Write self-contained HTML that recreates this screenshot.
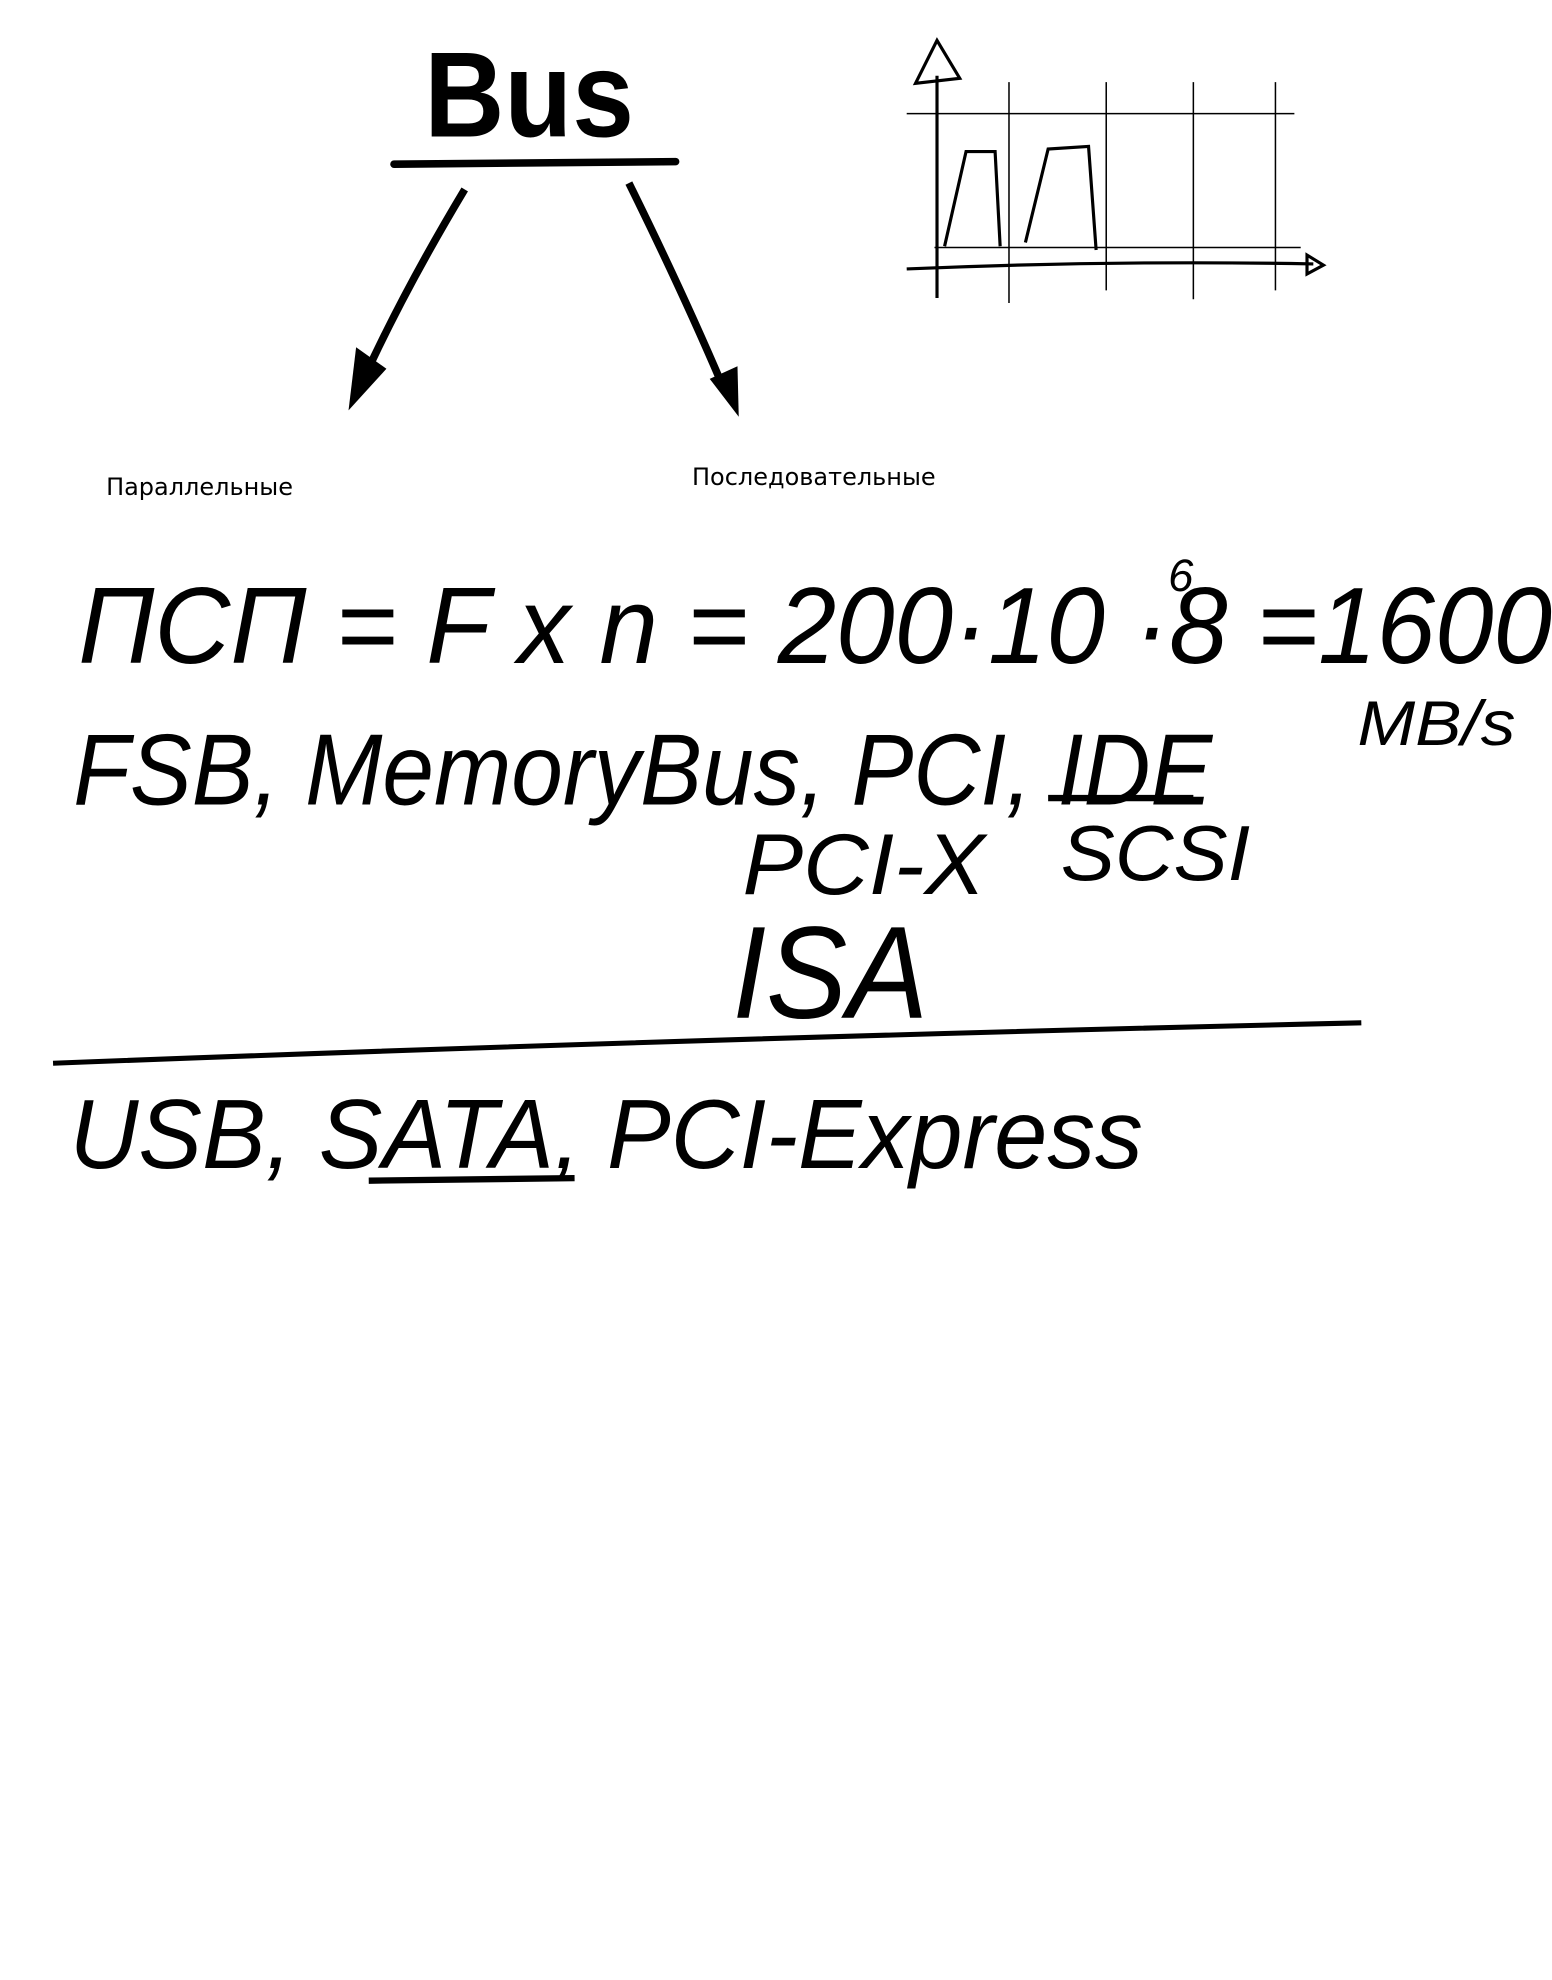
<!DOCTYPE html>
<html><head><meta charset="utf-8"><style>
html,body{margin:0;padding:0;background:#fff;width:1552px;height:1980px;overflow:hidden}
svg{display:block}
.h{font-family:"Liberation Sans",sans-serif;font-style:italic;fill:#000}
.t{font-family:"DejaVu Sans","Liberation Sans",sans-serif;fill:#000;font-size:19px}
</style></head><body>
<svg width="1552" height="1980" viewBox="0 0 1229 1568" preserveAspectRatio="none">
<rect width="1229" height="1568" fill="#fff"/>
<g>
<text x="336" y="108" font-family="Liberation Sans, sans-serif" font-weight="bold" font-size="96" textLength="166" lengthAdjust="spacingAndGlyphs">Bus</text>
<line x1="312" y1="130" x2="535" y2="128" stroke="#000" stroke-width="6" stroke-linecap="round"/>
<path d="M368 150 Q320 230 288 300" stroke="#000" stroke-width="6" fill="none"/>
<path d="M276 325 L282 275 L306 292 Z" fill="#000"/>
<path d="M498 145 Q540 230 572 305" stroke="#000" stroke-width="6" fill="none"/>
<path d="M585 330 L562 300 L584 290 Z" fill="#000"/>
<text x="84" y="392" class="t">Параллельные</text>
<text x="548" y="384" class="t">Последовательные</text>
</g>
<g stroke="#000" fill="none">
<g stroke-width="1.2">
<line x1="799" y1="65" x2="799" y2="240"/><line x1="876" y1="65" x2="876" y2="230"/>
<line x1="945" y1="65" x2="945" y2="237"/><line x1="1010" y1="65" x2="1010" y2="230"/>
<line x1="718" y1="90" x2="1025" y2="90"/><line x1="740" y1="196" x2="1030" y2="196"/>
</g>
<g stroke-width="2.5">
<line x1="742" y1="236" x2="742" y2="60"/>
<path d="M725 66 L742 32 L760 62 Z"/>
<path d="M718 213 Q880 206 1040 209"/>
<path d="M1035 202 L1048 210 L1035 217 Z"/>
<path d="M748 195 L765 120 L788 120 L792 195"/>
<path d="M812 192 L830 118 L862 116 L868 198"/>
</g>
</g>
<g>
<text x="62" y="525" class="h" font-size="86" textLength="1167" lengthAdjust="spacingAndGlyphs">ПСП = F x n = 200·10 ·8 =1600</text>
<text x="925" y="468" class="h" font-size="36">6</text>
<text x="1075" y="590" class="h" font-size="50" textLength="125" lengthAdjust="spacingAndGlyphs">MB/s</text>
<text x="58" y="637" class="h" font-size="80" textLength="902" lengthAdjust="spacingAndGlyphs">FSB, MemoryBus, PCI, IDE</text>
<line x1="830" y1="632" x2="945" y2="632" stroke="#000" stroke-width="5"/>
<text x="588" y="708" class="h" font-size="68" textLength="192" lengthAdjust="spacingAndGlyphs">PCI-X</text>
<text x="840" y="697" class="h" font-size="62" textLength="150" lengthAdjust="spacingAndGlyphs">SCSI</text>
<text x="580" y="806" class="h" font-size="104" textLength="155" lengthAdjust="spacingAndGlyphs">ISA</text>
<path d="M42 842 Q560 822 1078 810" stroke="#000" stroke-width="4" fill="none"/>
<text x="55" y="925" class="h" font-size="78" textLength="850" lengthAdjust="spacingAndGlyphs">USB, SATA, PCI-Express</text>
<line x1="292" y1="935" x2="455" y2="933" stroke="#000" stroke-width="5"/>
</g>
</svg>
</body></html>
